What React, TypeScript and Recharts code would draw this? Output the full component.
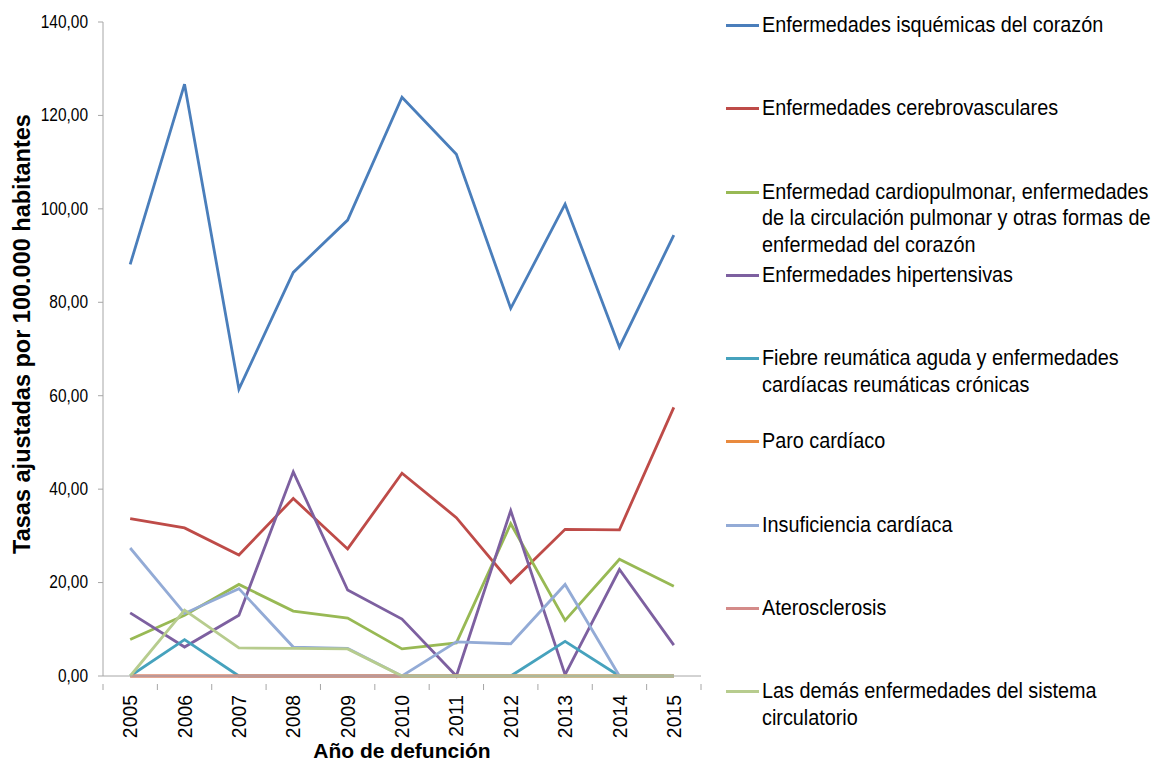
import React from 'react';
import { LineChart, Line, XAxis, YAxis, Legend } from 'recharts';

const years = [2005, 2006, 2007, 2008, 2009, 2010, 2011, 2012, 2013, 2014, 2015];
const isquemicas = [88.1, 126.7, 61.4, 86.4, 97.6, 123.9, 111.7, 78.7, 101.0, 70.4, 94.4];
const cerebrovasculares = [33.7, 31.7, 25.9, 38.0, 27.2, 43.4, 33.9, 20.0, 31.4, 31.3, 57.5];
const cardiopulmonar = [7.8, 13.0, 19.6, 13.9, 12.4, 5.8, 7.1, 32.6, 11.9, 25.0, 19.2];
const hipertensivas = [13.5, 6.2, 13.0, 43.7, 18.4, 12.2, 0, 35.4, 0.3, 22.8, 6.6];
const fiebre = [0, 7.8, 0, 0, 0, 0, 0, 0, 7.4, 0, 0];
const paro = [0, 0, 0, 0, 0, 0, 0, 0, 0, 0, 0];
const insuficiencia = [27.4, 13.4, 18.7, 6.2, 5.9, 0, 7.3, 6.9, 19.6, 0, 0];
const aterosclerosis = [0, 0, 0, 0, 0, 0, 0, 0, 0, 0, 0];
const demas = [0, 14.1, 6.0, 5.9, 5.8, 0, 0, 0, 0, 0, 0];

const yTicks = [0, 20, 40, 60, 80, 100, 120, 140];

const series = [
  { key: 'isq', name: 'Enfermedades isquémicas del corazón', color: '#4A7EBB', values: isquemicas },
  { key: 'cer', name: 'Enfermedades cerebrovasculares', color: '#BE4B48', values: cerebrovasculares },
  { key: 'car', name: 'Enfermedad cardiopulmonar, enfermedades\nde la circulación pulmonar y otras formas de\nenfermedad del corazón', color: '#98B954', values: cardiopulmonar },
  { key: 'hip', name: 'Enfermedades hipertensivas', color: '#7D60A0', values: hipertensivas },
  { key: 'fie', name: 'Fiebre reumática aguda y enfermedades\ncardíacas reumáticas crónicas', color: '#46A2BD', values: fiebre },
  { key: 'par', name: 'Paro cardíaco', color: '#E98A3E', values: paro },
  { key: 'ins', name: 'Insuficiencia cardíaca', color: '#93ABD6', values: insuficiencia },
  { key: 'ate', name: 'Aterosclerosis', color: '#D48B89', values: aterosclerosis },
  { key: 'dem', name: 'Las demás enfermedades del sistema\ncirculatorio', color: '#B7CC8E', values: demas },
];

const data = years.map((y, i) => {
  const row: any = { year: y };
  series.forEach((s) => { row[s.key] = s.values[i]; });
  return row;
});

const xTicks: number[] = [];
years.forEach((y) => { xTicks.push(y - 0.5); xTicks.push(y); });
xTicks.push(years[years.length - 1] + 0.5);

const FONT = '"Liberation Sans", Arial, sans-serif';

const XTick = (props: any) => {
  const { x, y, payload } = props;
  const v = payload.value;
  if (Number.isInteger(v)) {
    return (
      <text
        x={0}
        y={0}
        transform={`translate(${x},${y + 11}) rotate(-90) scale(0.97,1)`}
        textAnchor="end"
        dominantBaseline="central"
        fontFamily={FONT}
        fontSize={20}
        fill="#000"
      >
        {v}
      </text>
    );
  }
  return <line x1={x} x2={x} y1={y} y2={y + 6} stroke="#A6A6A6" strokeWidth={1} />;
};

const YTick = (props: any) => {
  const { x, y, payload } = props;
  return (
    <text
      x={0}
      y={0}
      transform={`translate(${x},${y}) scale(0.86,1)`}
      textAnchor="end"
      dominantBaseline="central"
      fontFamily={FONT}
      fontSize={18}
      fill="#000"
    >
      {payload.value.toFixed(2).replace('.', ',')}
    </text>
  );
};

const YTitle = (props: any) => {
  const { viewBox } = props;
  const cx = viewBox.x + 22;
  return (
    <text
      x={0}
      y={0}
      transform={`translate(${cx},334) rotate(-90)`}
      textAnchor="middle"
      dominantBaseline="central"
      fontFamily={FONT}
      fontSize={23.5}
      fontWeight="bold"
      fill="#000"
    >
      Tasas ajustadas por 100.000 habitantes
    </text>
  );
};

const XTitle = (props: any) => {
  const { viewBox } = props;
  const cx = viewBox.x + viewBox.width / 2;
  return (
    <text
      x={cx}
      y={750}
      textAnchor="middle"
      dominantBaseline="central"
      fontFamily={FONT}
      fontSize={21}
      fontWeight="bold"
      fill="#000"
    >
      Año de defunción
    </text>
  );
};

const LegendContent = (props: any) => {
  const payload = [...(props.payload || [])].sort(
    (a: any, b: any) => series.findIndex((s) => s.name === a.value) - series.findIndex((s) => s.name === b.value),
  );
  return (
    <div style={{ fontFamily: FONT, fontSize: 22, color: '#000' }}>
      {payload.map((p: any) => (
        <div key={p.value} style={{ display: 'flex', alignItems: 'flex-start', minHeight: 83.3 }}>
          <div style={{ width: 33, height: 3, background: p.color, marginTop: 12, marginRight: 3, flex: 'none' }} />
          <div
            style={{
              whiteSpace: 'pre',
              lineHeight: '26.7px',
              transform: 'scaleX(0.9)',
              transformOrigin: 'left top',
            }}
          >
            {p.value}
          </div>
        </div>
      ))}
    </div>
  );
};

export default function App() {
  return (
    <div style={{ position: 'absolute', left: 0, top: 0, width: 1152, height: 762, background: '#fff' }}>
      <LineChart width={1152} height={762} data={data} margin={{ top: 22, right: 451, bottom: 0, left: 0 }}>
        <XAxis
          dataKey="year"
          type="number"
          domain={[2004.5, 2015.5]}
          ticks={xTicks}
          interval={0}
          tickLine={false}
          tick={<XTick />}
          axisLine={{ stroke: '#A6A6A6', strokeWidth: 1 }}
          height={86}
          label={<XTitle />}
        />
        <YAxis
          type="number"
          domain={[0, 140]}
          ticks={yTicks}
          interval={0}
          width={103}
          tickSize={5}
          tickMargin={10}
          tickLine={{ stroke: '#A6A6A6' }}
          axisLine={{ stroke: '#A6A6A6', strokeWidth: 1 }}
          tick={<YTick />}
          label={<YTitle />}
        />
        <Legend
          layout="vertical"
          align="center"
          verticalAlign="middle"
          wrapperStyle={{ left: 726, top: 12, width: 426 }}
          content={<LegendContent />}
        />
        {series.map((s) => (
          <Line
            key={s.key}
            type="linear"
            dataKey={s.key}
            name={s.name}
            stroke={s.color}
            strokeWidth={2.8}
            dot={false}
            activeDot={false}
            isAnimationActive={false}
          />
        ))}
      </LineChart>
    </div>
  );
}
